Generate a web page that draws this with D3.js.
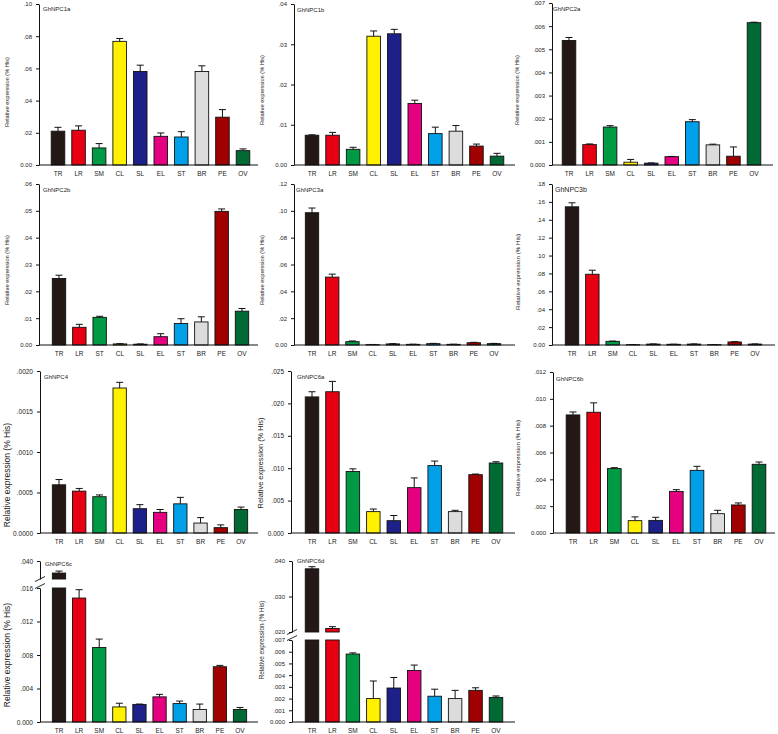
<!DOCTYPE html>
<html><head><meta charset="utf-8">
<script src="https://cdn.jsdelivr.net/npm/d3@7"></script>
<style>
body{margin:0;background:#fff}
svg{display:block}
text{font-family:"Liberation Sans",Arial,sans-serif;fill:#222}
</style>
</head><body><svg id="c" width="778" height="734"></svg>
<script>
// ---------- data ----------
const categories = ["TR","LR","SM","CL","SL","EL","ST","BR","PE","OV"];
const categoriesNPC2b = ["TR","LR","ST","CL","SL","EL","ST","BR","PE","OV"];
const barColors = ["#231815","#e60012","#009944","#fff100","#1d2088","#e4007f","#00a0e9","#dcdcdc","#a00000","#006934"];
const yLabelText = "Relative expression (% His)";

const npc1aMean = [0.0210,0.0216,0.0106,0.0768,0.0581,0.0178,0.0174,0.0581,0.0297,0.0089];
const npc1aErr  = [0.0024,0.0027,0.0027,0.0018,0.0039,0.0021,0.0033,0.0035,0.0047,0.0011];
const npc1bMean = [0.0074,0.0074,0.0039,0.0320,0.0326,0.0153,0.0078,0.0084,0.0047,0.0022];
const npc1bErr  = [0.0001,0.0007,0.0005,0.0013,0.0011,0.0008,0.0016,0.0014,0.0005,0.0007];
const npc2aMean = [0.00538,0.00088,0.00164,0.00012,0.00008,0.00036,0.00187,0.00087,0.00038,0.00615];
const npc2aErr  = [0.00013,0.00003,0.00006,0.00012,0.00001,0.00001,0.00009,0.00003,0.00040,0.00002];
const npc2bMean = [0.0248,0.0066,0.0103,0.0004,0.0003,0.0031,0.0080,0.0086,0.0498,0.0126];
const npc2bErr  = [0.0012,0.0011,0.0004,0.0001,0.0001,0.0011,0.0018,0.0019,0.0009,0.0010];
const npc3aMean = [0.0986,0.0506,0.0025,0.0003,0.0008,0.0005,0.0010,0.0005,0.0017,0.0010];
const npc3aErr  = [0.0035,0.0022,0.0005,0.0001,0.0002,0.0001,0.0002,0.0001,0.0003,0.0002];
const npc3bMean = [0.1545,0.0791,0.0041,0.0004,0.0010,0.0008,0.0010,0.0004,0.0034,0.0010];
const npc3bErr  = [0.0045,0.0045,0.0003,0.0001,0.0002,0.0001,0.0002,0.0001,0.0003,0.0002];
const npc4Mean  = [0.000595,0.000517,0.000448,0.00179,0.00030,0.000255,0.00036,0.000123,0.000066,0.00029];
const npc4Err   = [0.000065,0.000033,0.000022,0.00007,0.00005,0.000035,0.00008,0.000067,0.000034,0.00003];
const npc6aMean = [0.0210,0.0218,0.0095,0.0033,0.0019,0.0070,0.0104,0.0033,0.0090,0.0108];
const npc6aErr  = [0.0008,0.0016,0.0004,0.0004,0.0008,0.0015,0.0007,0.0002,0.0001,0.0002];
const npc6bMean = [0.0088,0.0090,0.0048,0.00092,0.00094,0.0031,0.00467,0.00144,0.00209,0.00512];
const npc6bErr  = [0.00022,0.0007,0.00007,0.00028,0.00023,0.00013,0.0003,0.00025,0.00015,0.00017];
const npc6cMean = [0.0333,0.0148,0.0089,0.0018,0.0021,0.0030,0.0022,0.0015,0.0066,0.0015];
const npc6cErr  = [0.0011,0.0010,0.0010,0.00044,0.00004,0.0003,0.0003,0.00064,0.00016,0.00024];
const npc6dMean = [0.0378,0.0210,0.0058,0.0020,0.0029,0.0044,0.0022,0.0020,0.0027,0.0021];
const npc6dErr  = [0.0006,0.0005,0.0001,0.0015,0.0009,0.00046,0.0006,0.0007,0.00022,0.00012];

// tick values and labels
const ticks1a = [0,0.02,0.04,0.06,0.08,0.10], labels1a = ["0.00",".02",".04",".06",".08",".10"];
const ticks1b = [0,0.01,0.02,0.03,0.04], labels1b = ["0.00",".01",".02",".03",".04"];
const ticks2a = [0,0.001,0.002,0.003,0.004,0.005,0.006,0.007], labels2a = ["0.000",".001",".002",".003",".004",".005",".006",".007"];
const ticks2b = [0,0.01,0.02,0.03,0.04,0.05,0.06], labels2b = ["0.00",".01",".02",".03",".04",".05",".06"];
const ticks3a = [0,0.02,0.04,0.06,0.08,0.10,0.12], labels3a = ["0.00",".02",".04",".06",".08",".10",".12"];
const ticks3b = [0,0.02,0.04,0.06,0.08,0.10,0.12,0.14,0.16,0.18], labels3b = ["0.00",".02",".04",".06",".08",".10",".12",".14",".16",".18"];
const ticks4 = [0,0.0005,0.0010,0.0015,0.0020], labels4 = ["0.0000",".0005",".0010",".0015",".0020"];
const ticks6a = [0,0.005,0.010,0.015,0.020,0.025], labels6a = ["0.000",".005",".010",".015",".020",".025"];
const ticks6b = [0,0.002,0.004,0.006,0.008,0.010,0.012], labels6b = ["0.000",".002",".004",".006",".008",".010",".012"];
const ticks6cLow = [0,0.004,0.008,0.012,0.016], labels6cLow = ["0.000",".004",".008",".012",".016"];
const ticks6cHigh = [0.040], labels6cHigh = [".040"];
const ticks6dLow = [0,0.001,0.002,0.003,0.004,0.005,0.006,0.007], labels6dLow = ["0.000",".001",".002",".003",".004",".005",".006",".007"];
const ticks6dHigh = [0.020,0.030,0.040], labels6dHigh = [".020",".030",".040"];

// ---------- panel configuration (data refs + layout) ----------
const panels = [
  {title:"GhNPC1a", cats:categories, mean:npc1aMean, err:npc1aErr,
   segs:[{domain:[0,0.10], ticks:ticks1a, labels:labels1a}],
   L:{axisX:39, first:58, last:243, xEnd:258, ranges:[[165,4]], tX:43, tY:11, tS:6, lX:7, lY:92, lS:5.7, fs:6}},
  {title:"GhNPC1b", cats:categories, mean:npc1bMean, err:npc1bErr,
   segs:[{domain:[0,0.04], ticks:ticks1b, labels:labels1b}],
   L:{axisX:294, first:312, last:497, xEnd:515, ranges:[[165,4]], tX:297, tY:12, tS:6, lX:262, lY:90, lS:5.7, fs:6}},
  {title:"GhNPC2a", cats:categories, mean:npc2aMean, err:npc2aErr,
   segs:[{domain:[0,0.007], ticks:ticks2a, labels:labels2a}],
   L:{axisX:552, first:569, last:754, xEnd:773, ranges:[[165,3]], tX:553, tY:11, tS:6, lX:517, lY:90, lS:5.7, fs:6}},
  {title:"GhNPC2b", cats:categoriesNPC2b, mean:npc2bMean, err:npc2bErr,
   segs:[{domain:[0,0.06], ticks:ticks2b, labels:labels2b}],
   L:{axisX:39, first:59, last:242, xEnd:258, ranges:[[345,184]], tX:43, tY:192, tS:6, lX:7, lY:270, lS:5.7, fs:6}},
  {title:"GhNPC3a", cats:categories, mean:npc3aMean, err:npc3aErr,
   segs:[{domain:[0,0.12], ticks:ticks3a, labels:labels3a}],
   L:{axisX:294, first:312, last:494, xEnd:515, ranges:[[345,184]], tX:296, tY:192, tS:6, lX:262, lY:270, lS:5.7, fs:6}},
  {title:"GhNPC3b", cats:categories, mean:npc3bMean, err:npc3bErr,
   segs:[{domain:[0,0.18], ticks:ticks3b, labels:labels3b}],
   L:{axisX:552, first:572, last:755, xEnd:775, ranges:[[345,184]], tX:555, tY:192, tS:7, lX:517, lY:272, lS:6.2, fs:6}},
  {title:"GhNPC4", cats:categories, mean:npc4Mean, err:npc4Err,
   segs:[{domain:[0,0.002], ticks:ticks4, labels:labels4}],
   L:{axisX:40, first:59, last:241, xEnd:258, ranges:[[533,371]], tX:44, tY:379, tS:6, lX:7, lY:475, lS:8.5, fs:6.5}},
  {title:"GhNPC6a", cats:categories, mean:npc6aMean, err:npc6aErr,
   segs:[{domain:[0,0.025], ticks:ticks6a, labels:labels6a}],
   L:{axisX:291, first:312, last:496, xEnd:515, ranges:[[533,371]], tX:297, tY:379, tS:6, lX:260, lY:463, lS:7.4, fs:6.5}},
  {title:"GhNPC6b", cats:categories, mean:npc6bMean, err:npc6bErr,
   segs:[{domain:[0,0.012], ticks:ticks6b, labels:labels6b}],
   L:{axisX:553, first:573, last:759, xEnd:775, ranges:[[533,372]], tX:556, tY:381, tS:6, lX:517, lY:458, lS:6.2, fs:6}},
  {title:"GhNPC6c", cats:categories, mean:npc6cMean, err:npc6cErr,
   segs:[{domain:[0,0.016], ticks:ticks6cLow, labels:labels6cLow},
         {domain:[0.030,0.040], ticks:ticks6cHigh, labels:labels6cHigh}],
   L:{axisX:40, first:59, last:240, xEnd:258, ranges:[[722,588],[579,561]], tX:45, tY:566, tS:6, lX:7, lY:655, lS:8.5, fs:6.5}},
  {title:"GhNPC6d", cats:categories, mean:npc6dMean, err:npc6dErr,
   segs:[{domain:[0,0.007], ticks:ticks6dLow, labels:labels6dLow},
         {domain:[0.020,0.040], ticks:ticks6dHigh, labels:labels6dHigh}],
   L:{axisX:292, first:312, last:496, xEnd:515, ranges:[[722,640],[632,561]], tX:297, tY:563, tS:6, lX:261, lY:640, lS:6.4, fs:6}}
];

// ---------- drawing ----------
const svg = d3.select("#c");

panels.forEach(p => {
  const L = p.L;
  const g = svg.append("g");
  const step = (L.last - L.first) / 9;
  const x = d3.scaleBand().domain(d3.range(p.cats.length))
    .range([L.first - step/2, L.last + step/2]).paddingInner(0.34).paddingOuter(0.17);
  const segs = p.segs.map((s,k) => Object.assign({}, s, {y: d3.scaleLinear().domain(s.domain).range(L.ranges[k])}));
  const y0 = segs[0].y(0);

  // bars (clipped per segment)
  segs.forEach(s => {
    const [a,b] = s.domain;
    g.append("g").selectAll("rect")
      .data(p.mean.map((v,i)=>({v,i})).filter(d => d.v > a))
      .join("rect")
      .attr("x", d => x(d.i))
      .attr("width", x.bandwidth())
      .attr("y", d => s.y(Math.min(d.v, b)))
      .attr("height", d => s.y(a) - s.y(Math.min(d.v, b)))
      .attr("fill", d => barColors[d.i])
      .attr("stroke", "#111")
      .attr("stroke-width", 0.9);
  });

  // error bars (upper only)
  const errData = p.mean.map((v,i) => {
    let s = segs[0];
    segs.forEach(sg => { if (v >= sg.domain[0]) s = sg; });
    const tip = Math.min(v + p.err[i], s.domain[1]);
    return {i, yTop: s.y(tip), yBar: s.y(Math.min(v, s.domain[1]))};
  });
  const eg = g.append("g").attr("stroke","#111").attr("stroke-width",1);
  eg.selectAll("line.v").data(errData).join("line").attr("class","v")
    .attr("x1", d => x(d.i) + x.bandwidth()/2).attr("x2", d => x(d.i) + x.bandwidth()/2)
    .attr("y1", d => d.yBar).attr("y2", d => d.yTop);
  eg.selectAll("line.c").data(errData).join("line").attr("class","c")
    .attr("x1", d => x(d.i) + x.bandwidth()/2 - 3.5).attr("x2", d => x(d.i) + x.bandwidth()/2 + 3.5)
    .attr("y1", d => d.yTop).attr("y2", d => d.yTop);

  // x axis
  const xa = g.append("g").attr("transform", `translate(0,${y0})`)
    .call(d3.axisBottom(x).tickSize(0).tickPadding(6).tickFormat(i => p.cats[i]));
  xa.select(".domain").remove();
  xa.selectAll("text").attr("font-size", 6.5).attr("font-family", '"Liberation Sans",Arial,sans-serif').attr("fill","#222");
  g.append("line").attr("x1", L.axisX).attr("x2", L.xEnd).attr("y1", y0).attr("y2", y0)
    .attr("stroke", "#111").attr("stroke-width", 1);

  // y axis segments
  segs.forEach(s => {
    const ya = g.append("g").attr("transform", `translate(${L.axisX},0)`)
      .call(d3.axisLeft(s.y).tickValues(s.ticks).tickFormat((d,i) => s.labels[i]).tickSize(3).tickSizeOuter(0).tickPadding(4));
    ya.select(".domain").attr("stroke", "#111");
    ya.selectAll(".tick line").attr("stroke", "#111");
    ya.selectAll("text").attr("font-size", L.fs).attr("font-family", '"Liberation Sans",Arial,sans-serif').attr("fill","#222");
  });

  // break marks
  if (segs.length > 1) {
    const yb = [segs[0].y(segs[0].domain[1]) - 2, segs[1].y(segs[1].domain[0])];
    g.append("g").selectAll("line").data(yb).join("line")
      .attr("x1", L.axisX - 5).attr("x2", L.axisX + 5)
      .attr("y1", d => d + 2.5).attr("y2", d => d - 2.5)
      .attr("stroke", "#111").attr("stroke-width", 0.9);
  }

  // title
  g.append("text").attr("x", L.tX).attr("y", L.tY).attr("font-size", L.tS).text(p.title);

  // y label
  g.append("text").attr("transform", `translate(${L.lX},${L.lY}) rotate(-90)`)
    .attr("text-anchor", "middle").attr("dominant-baseline", "central")
    .attr("font-size", L.lS).text(yLabelText);
});
</script>
</body></html>
